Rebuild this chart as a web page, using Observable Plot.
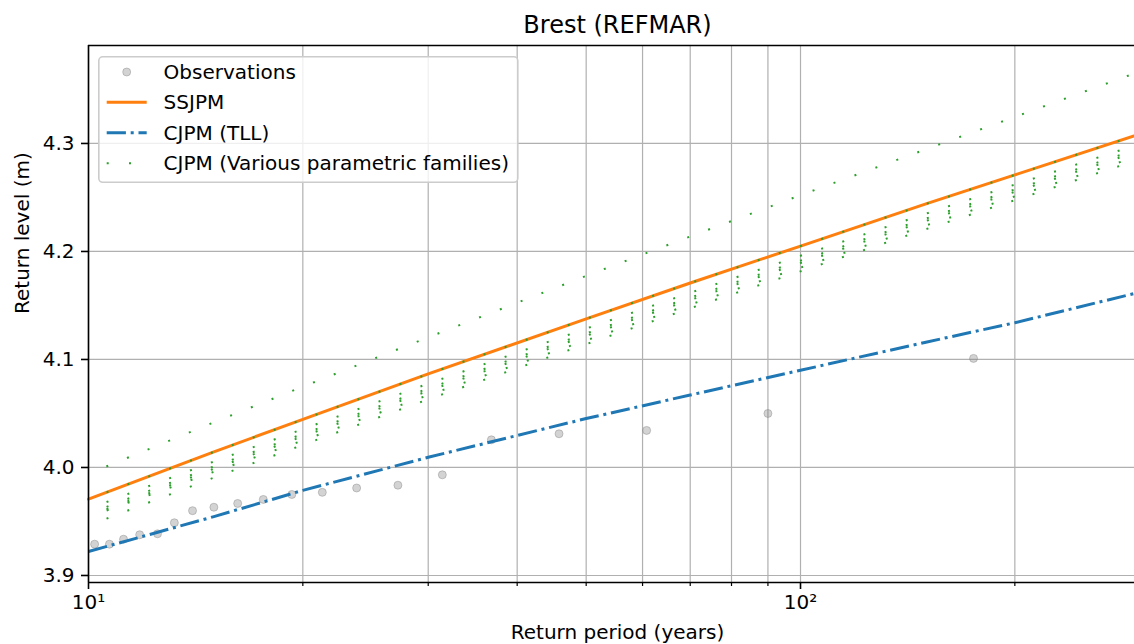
<!DOCTYPE html>
<html><head><meta charset="utf-8">
<script src="https://cdn.jsdelivr.net/npm/d3@7"></script>
<script src="https://cdn.jsdelivr.net/npm/@observablehq/plot@0.6"></script>
<style>
html,body{margin:0;padding:0;background:#fff;overflow:hidden}
#wrap{position:relative;width:1134px;height:644px;font-family:"DejaVu Sans",sans-serif}
#wrap svg.overlay{position:absolute;left:0;top:0;pointer-events:none}
</style></head><body><div id="wrap"></div>
<script>
// ---- data ----
const periods = [10, 15, 20, 30, 50, 70, 100, 150, 200, 294];
const ssjpm   = [3.9707, 4.0145, 4.0445, 4.0866, 4.1376, 4.1708, 4.2050, 4.2440, 4.2709, 4.3069];
const cjpmTll = [3.9222, 3.9545, 3.9788, 4.0094, 4.0453, 4.0671, 4.0900, 4.1160, 4.1340, 4.1610];
// CJPM, various parametric families (one array per family)
const famUpper = [3.9941, 4.0418, 4.0748, 4.1205, 4.1774, 4.2139, 4.2521, 4.2946, 4.3246, 4.3647];
const famA     = [3.9707, 4.0145, 4.0445, 4.0866, 4.1376, 4.1708, 4.2050, 4.2440, 4.2709, 4.3069];
const famB     = [3.9617, 4.0055, 4.0355, 4.0776, 4.1286, 4.1618, 4.1960, 4.2350, 4.2619, 4.2979];
const famC     = [3.9572, 4.0010, 4.0310, 4.0731, 4.1241, 4.1573, 4.1915, 4.2305, 4.2574, 4.2934];
const famD     = [3.9550, 3.9988, 4.0288, 4.0709, 4.1219, 4.1551, 4.1893, 4.2283, 4.2552, 4.2912];
const famE     = [3.9541, 3.9960, 4.0250, 4.0670, 4.1177, 4.1509, 4.1851, 4.2241, 4.2510, 4.2870];
const famF     = [3.9462, 3.9906, 4.0209, 4.0631, 4.1142, 4.1474, 4.1816, 4.2206, 4.2475, 4.2835];
const obsPeriods = [10.2, 10.7, 11.2, 11.8, 12.5, 13.2, 14.0, 15.0, 16.2, 17.6, 19.3, 21.3, 23.8, 27.2, 31.4, 36.8, 45.8, 60.8, 90.0, 175];
const obsLevels  = [3.929, 3.929, 3.9336, 3.9377, 3.9386, 3.9488, 3.960, 3.9632, 3.9667, 3.9704, 3.975, 3.977, 3.981, 3.9836, 3.9932, 4.0256, 4.0312, 4.0343, 4.050, 4.101];
const xTicksMajor = [10, 100];
const xTickLabels = ["10\u00b9", "10\u00b2"];
const xTicksMinor = [20, 30, 40, 50, 60, 70, 80, 90, 200];
const yTicks = [3.9, 4.0, 4.1, 4.2, 4.3];
const xDomain = [10, 294.5];
const yDomain = [3.8935, 4.3907];

const labels = {
  title: "Brest (REFMAR)",
  x: "Return period (years)",
  y: "Return level (m)",
  obs: "Observations",
  ssjpm: "SSJPM",
  tll: "CJPM (TLL)",
  fam: "CJPM (Various parametric families)"
};

// ---- tables ----
const lineTable = (arr) => periods.map((p, i) => ({period: p, level: arr[i]}));
const families = [famUpper, famA, famB, famC, famD, famE, famF];
const famTable = families.flatMap((arr, k) => periods.map((p, i) => ({period: p, level: arr[i], fam: k})));
const obsTable = obsPeriods.map((p, i) => ({period: p, level: obsLevels[i]}));

const ORANGE = "#ff7f0e", BLUE = "#1f77b4", GREEN = "#2ca02c", GRID = "#b0b0b0";

const chart = Plot.plot({
  width: 1134,
  height: 644,
  marginTop: 45,
  marginBottom: 62,
  marginLeft: 88,
  marginRight: 0,
  style: {fontFamily: "DejaVu Sans, sans-serif", fontSize: "20px", color: "#000", background: "#fff", overflow: "visible"},
  x: {type: "log", domain: xDomain},
  y: {domain: yDomain},
  marks: [
    Plot.gridY(yTicks, {stroke: GRID, strokeOpacity: 1, strokeWidth: 1.2}),
    Plot.gridX([...xTicksMajor, ...xTicksMinor], {stroke: GRID, strokeOpacity: 1, strokeWidth: 1.2}),
    Plot.dot(obsTable, {x: "period", y: "level", r: 4, fill: "gray", fillOpacity: 0.35, stroke: "gray", strokeOpacity: 0.4, strokeWidth: 1}),
    Plot.line(lineTable(ssjpm), {x: "period", y: "level", stroke: ORANGE, strokeWidth: 3}),
    Plot.line(lineTable(cjpmTll), {x: "period", y: "level", stroke: BLUE, strokeWidth: 3, strokeDasharray: "19.2 4.8 3 4.8", strokeLinecap: "butt"}),
    Plot.line(famTable, {x: "period", y: "level", z: "fam", stroke: GREEN, strokeWidth: 2, strokeDasharray: "2 20.3", strokeDashoffset: 3, strokeLinecap: "butt"}),
    Plot.ruleX([xDomain[0]], {stroke: "#000", strokeWidth: 1.6}),
    Plot.ruleY([yDomain[0], yDomain[1]], {stroke: "#000", strokeWidth: 1.6}),
    Plot.axisY(yTicks, {tickFormat: d3.format(".1f"), tickSize: 7, tickPadding: 7, strokeWidth: 1.6, label: null, fontSize: 20}),
    Plot.axisX(xTicksMajor, {tickFormat: (d) => xTickLabels[xTicksMajor.indexOf(d)], tickSize: 7, tickPadding: 5, strokeWidth: 1.6, label: null, fontSize: 20}),
    Plot.axisX(xTicksMinor, {tickFormat: () => "", tickSize: 4, strokeWidth: 1.2, label: null}),
    Plot.text([labels.title], {frameAnchor: "top", lineAnchor: "middle", text: (d) => d, dy: -20, dx: 6, fontSize: 24}),
    Plot.text([labels.x], {frameAnchor: "bottom", lineAnchor: "middle", text: (d) => d, dy: 50, dx: 6, fontSize: 20}),
    Plot.text([labels.y], {frameAnchor: "left", lineAnchor: "middle", text: (d) => d, dx: -66, rotate: -90, fontSize: 20})
  ]
});

const wrap = document.getElementById("wrap");
wrap.appendChild(chart);

// ---- legend overlay ----
const ns = "http://www.w3.org/2000/svg";
const lg = document.createElementNS(ns, "svg");
lg.setAttribute("class", "overlay");
lg.setAttribute("width", 1134);
lg.setAttribute("height", 644);
function el(tag, attrs) {
  const e = document.createElementNS(ns, tag);
  for (const k in attrs) e.setAttribute(k, attrs[k]);
  lg.appendChild(e);
  return e;
}
el("rect", {x: 98.8, y: 56.8, width: 419, height: 125.5, rx: 4, fill: "#fff", "fill-opacity": 0.8, stroke: "#cccccc", "stroke-width": 1.6});
const rows = [
  {label: labels.obs, y: 72},
  {label: labels.ssjpm, y: 102.3},
  {label: labels.tll, y: 132.7},
  {label: labels.fam, y: 163.3}
];
el("circle", {cx: 126.7, cy: rows[0].y, r: 4, fill: "gray", "fill-opacity": 0.35, stroke: "gray", "stroke-opacity": 0.4});
el("line", {x1: 106.7, x2: 146.7, y1: rows[1].y, y2: rows[1].y, stroke: ORANGE, "stroke-width": 3});
el("line", {x1: 106.7, x2: 146.7, y1: rows[2].y, y2: rows[2].y, stroke: BLUE, "stroke-width": 3, "stroke-dasharray": "19.2 4.8 3 4.8"});
el("line", {x1: 106.7, x2: 146.7, y1: rows[3].y, y2: rows[3].y, stroke: GREEN, "stroke-width": 2, "stroke-dasharray": "2 20.3"});
for (const r of rows) {
  const t = el("text", {x: 163.6, y: r.y, "dominant-baseline": "central", "font-family": "DejaVu Sans, sans-serif", "font-size": 20, fill: "#000"});
  t.textContent = r.label;
}
wrap.appendChild(lg);
</script>
</body></html>
